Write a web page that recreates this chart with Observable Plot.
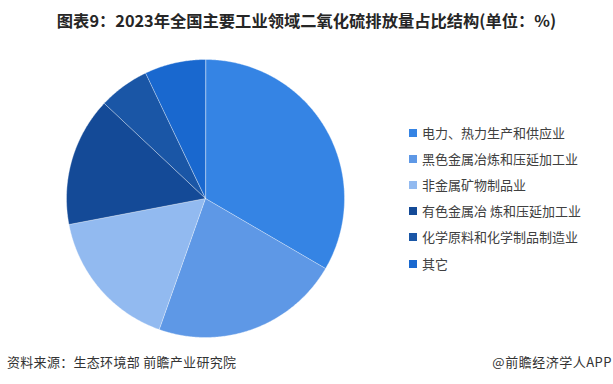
<!DOCTYPE html>
<html>
<head>
<meta charset="utf-8">
<script src="https://cdn.jsdelivr.net/npm/d3@7"></script>
<script src="https://cdn.jsdelivr.net/npm/@observablehq/plot@0.6"></script>
<style>
  body { margin: 0; background: #fff; font-family: "Noto Sans CJK SC", "Noto Sans", sans-serif; }
  #wrap { position: relative; width: 613px; height: 384px; overflow: hidden; background: #fff; }
  #title { position: absolute; left: 0; width: 613px; text-align: center; top: 8px; font-size: 16.3px; font-weight: bold; color: #262626; white-space: nowrap; }
  #pie { position: absolute; left: 60px; top: 53px; }
  #legend { position: absolute; left: 409px; top: 120px; }
  .item { height: 26.1px; line-height: 26px; font-size: 13px; color: #404040; white-space: nowrap; display: flex; align-items: center; }
  .sw { width: 8px; height: 8px; margin-right: 5px; display: inline-block; }
  #src { position: absolute; left: 7px; top: 352px; font-size: 13px; letter-spacing: 0.3px; color: #333; white-space: nowrap; }
  #brand { position: absolute; right: 1px; top: 352px; font-size: 13px; letter-spacing: 0.5px; color: #333; white-space: nowrap; }
</style>
</head>
<body>
<div id="wrap">
  <div id="title"></div>
  <div id="pie"></div>
  <div id="legend"></div>
  <div id="src"></div>
  <div id="brand"></div>
</div>
<script>
const titleText = "图表9：2023年全国主要工业领域二氧化硫排放量占比结构(单位：%)";
const sourceText = "资料来源：生态环境部 前瞻产业研究院";
const brandText = "@前瞻经济学人APP";
const categories = ["电力、热力生产和供应业", "黑色金属冶炼和压延加工业", "非金属矿物制品业", "有色金属冶 炼和压延加工业", "化学原料和化学制品制造业", "其它"];
const values = [33.4, 22.0, 16.6, 15.0, 5.9, 7.1];
const colors = ["#3584e4", "#5e98e6", "#92baf0", "#144a97", "#1a56a6", "#1968cf"];

document.getElementById("title").textContent = titleText;
document.getElementById("src").textContent = sourceText;
document.getElementById("brand").textContent = brandText;

const total = d3.sum(values);
const pts = [];
let acc = 0;
categories.forEach((name, i) => {
  const a0 = acc / total * 2 * Math.PI;
  acc += values[i];
  const a1 = acc / total * 2 * Math.PI;
  const n = Math.max(2, Math.ceil((a1 - a0) / 0.01));
  pts.push({name, x: 0, y: 0});
  for (let k = 0; k <= n; k++) {
    const a = a0 + (a1 - a0) * k / n;
    pts.push({name, x: Math.sin(a), y: Math.cos(a)});
  }
});

const R = 139, S = 290;
const ext = (S / 2) / R;
const chart = Plot.plot({
  width: S, height: S,
  margin: 0,
  x: {domain: [-ext, ext], axis: null},
  y: {domain: [-ext, ext], axis: null},
  color: {domain: categories, range: colors},
  marks: [
    Plot.line(pts, {x: "x", y: "y", z: "name", fill: "name", stroke: "#ffffff", strokeOpacity: 0.6, strokeWidth: 0.6, curve: "linear-closed"})
  ]
});
document.getElementById("pie").appendChild(chart);

const lg = document.getElementById("legend");
categories.forEach((c, i) => {
  const d = document.createElement("div");
  d.className = "item";
  const s = document.createElement("span");
  s.className = "sw";
  s.style.background = colors[i];
  d.appendChild(s);
  d.appendChild(document.createTextNode(c));
  lg.appendChild(d);
});
</script>
</body>
</html>
